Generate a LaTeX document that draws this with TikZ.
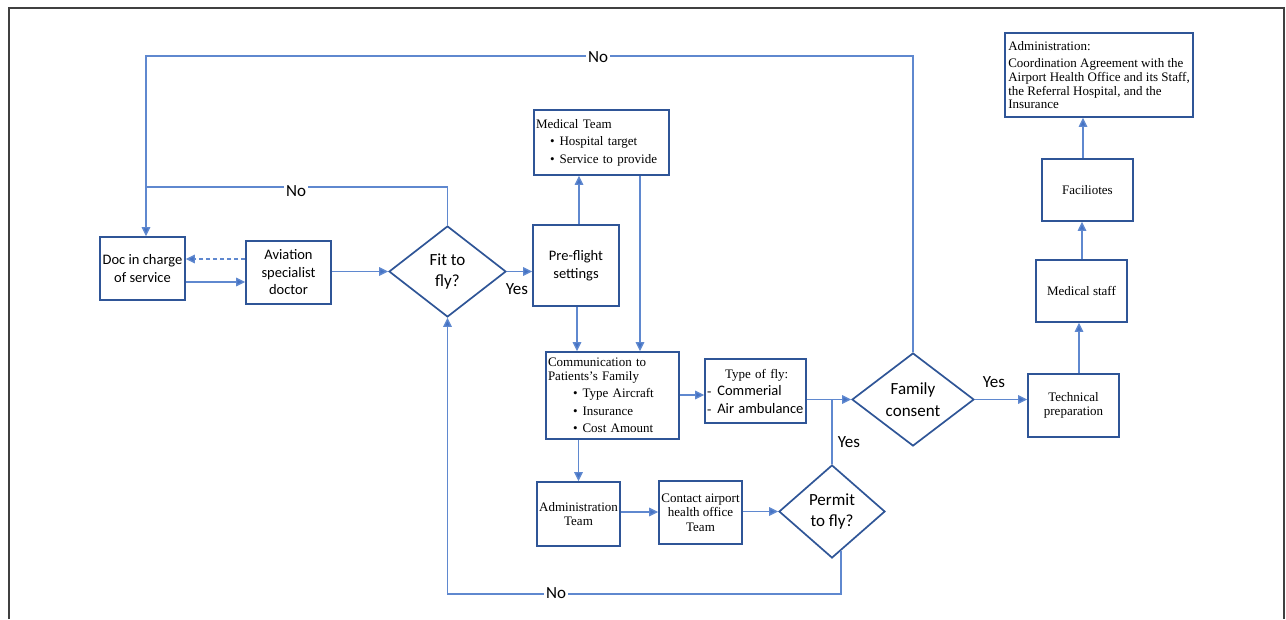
\documentclass[tikz,border=0pt]{standalone}
\usepackage{fontspec}
\setmainfont{Liberation Serif}
\newfontfamily\calib{Carlito}
\usetikzlibrary{shapes.geometric,arrows.meta,calc}
\definecolor{boxc}{HTML}{2F5597}
\definecolor{linec}{HTML}{5F88CF}
\definecolor{arrc}{HTML}{4472C4}
\definecolor{framec}{HTML}{404040}
\newcommand\sbx{\calib\fontsize{14.5}{17.5}\selectfont}
\newcommand\dfnt{\calib\fontsize{17}{21.5}\selectfont}
\newcommand\srf{\fontsize{13}{14.5}\selectfont}
\newcommand\bul{\textbullet\hspace{5pt}}
\begin{document}
\begin{tikzpicture}[x=1pt,y=-1pt,
  box/.style={draw=boxc,line width=1.7pt,inner sep=0pt,text=black,align=center},
  dia/.style={draw=boxc,line width=1.7pt,shape=diamond,inner sep=0pt,align=center,font=\dfnt,text=black},
  ln/.style={draw=linec,line width=1.3pt},
  arr/.style={ln,-{Triangle[length=9pt,width=8.5pt,fill=arrc]}},
  lbl/.style={fill=white,inner sep=2.5pt,font=\dfnt,text=black}]
\useasboundingbox (0,0) rectangle (1286,619);
\fill[white] (0,0) rectangle (1286,619);
\draw[framec,line width=2pt] (9,619) -- (9,8) -- (1284,8) -- (1284,619);

% nodes
\node[box,minimum width=85,minimum height=63,font=\sbx] (doc) at (142.5,268.5) {Doc in charge\\of service};
\node[box,minimum width=85,minimum height=63,font=\sbx] (av) at (288.5,272.5) {Aviation\\specialist\\doctor};
\node[dia,minimum width=117,minimum height=91] (fit) at (447.5,271.5) {Fit to\\fly?};
\node[box,minimum width=86,minimum height=81,font=\sbx] (pre) at (576,265.5) {Pre-flight\\settings};
\node[box,text width=131,inner xsep=2pt,minimum height=65,align=left,font=\fontsize{13}{17.5}\selectfont] (med) at (601.5,142.5)
  {Medical Team\\\hspace*{14pt}\bul Hospital target\\\hspace*{14pt}\bul Service to provide};
\node[box,text width=129,inner xsep=2pt,minimum height=87,align=left,font=\fontsize{13}{13.5}\selectfont] (comm) at (612.5,395.5)
  {Communication to\\Patients’s Family\\[4pt]\hspace*{25pt}\bul Type Aircraft\\[4pt]\hspace*{25pt}\bul Insurance\\[4pt]\hspace*{25pt}\bul Cost Amount};
\node[box,text width=97,inner xsep=2pt,minimum height=64,align=left,font=\fontsize{13}{17.5}\selectfont] (type) at (755.5,391)
  {\hspace*{18pt}Type of fly:\\-\hspace{6pt}{\calib\fontsize{14.5}{17.5}\selectfont Commerial}\\-\hspace{6pt}{\calib\fontsize{14.5}{17.5}\selectfont Air ambulance}};
\node[dia,minimum width=122,minimum height=93] (fam) at (913,399.5) {Family\\consent};
\node[box,minimum width=83,minimum height=64,font=\srf] (admt) at (578.5,514) {Administration\\Team};
\node[box,minimum width=83,minimum height=63,font=\srf] (cont) at (700.5,512.5) {Contact airport\\health office\\Team};
\node[dia,minimum width=106,minimum height=93] (perm) at (832,511.5) {Permit\\to fly?};
\node[box,minimum width=91,minimum height=63,font=\srf] (tech) at (1073.5,405.5) {Technical\\preparation};
\node[box,minimum width=91,minimum height=62,font=\srf] (meds) at (1081.5,291) {Medical staff};
\node[box,minimum width=91,minimum height=62,font=\srf] (fac) at (1087.5,190) {Faciliotes};
\node[box,minimum width=188,minimum height=84,align=left,font=\fontsize{13}{13.6}\selectfont] (adm) at (1099,75)
  {Administration:\\[4pt]Coordination Agreement with the\\Airport Health Office and its Staff,\\the Referral Hospital, and the\\Insurance};

% connectors
\coordinate (tl) at (146,56);
\coordinate (j2) at (146,187);
\draw[arr] (fam.north) |- (tl) -- (tl |- doc.north);
\draw[ln] (fit.north) |- (j2);
\draw[arr,dash pattern=on 4pt off 3pt] (av.west |- 0,259) -- (doc.east |- 0,259);
\draw[arr] (doc.east |- 0,282) -- (av.west |- 0,282);
\draw[arr] (av.east |- fit.west) -- (fit.west);
\draw[arr] (fit.east) -- (fit.east -| pre.west);
\draw[arr] (pre.north -| 579,0) -- (med.south -| 579,0);
\coordinate (mc) at (640,175);
\draw[arr] (med.south -| mc) -- (comm.north -| mc);
\draw[arr] (pre.south -| 577,0) -- (comm.north -| 577,0);
\draw[arr] (comm.east |- 0,395) -- (type.west |- 0,395);
\draw[arr] (type.east |- fam.west) -- (fam.west);
\draw[ln] (perm.north) -- (perm.north |- fam.west);
\draw[arr] (admt.north |- comm.south) -- (admt.north);
\draw[arr] (admt.east |- 0,512) -- (cont.west |- 0,512);
\draw[arr] (cont.east |- perm.west) -- (perm.west);
\coordinate (pb) at (841,551);
\draw[arr] (pb) |- (fit.south |- 0,594) -- (fit.south);
\draw[arr] (fam.east) -- (fam.east -| tech.west);
\draw[arr] (tech.north -| 1079,0) -- (meds.south -| 1079,0);
\draw[arr] (meds.north -| 1082,0) -- (fac.south -| 1082,0);
\draw[arr] (fac.north -| 1083,0) -- (adm.south -| 1083,0);

% labels
\node[lbl] (no1) at (598,57) {No};
\node[lbl] (no2) at (296,191) {No};
\node[lbl] (no3) at (556,593) {No};
\node[font=\dfnt,inner sep=0pt] (yes1) at (517,289) {Yes};
\node[font=\dfnt,inner sep=0pt] (yes2) at (849,442) {Yes};
\node[font=\dfnt,inner sep=0pt] (yes3) at (994,382) {Yes};
\end{tikzpicture}
\end{document}
